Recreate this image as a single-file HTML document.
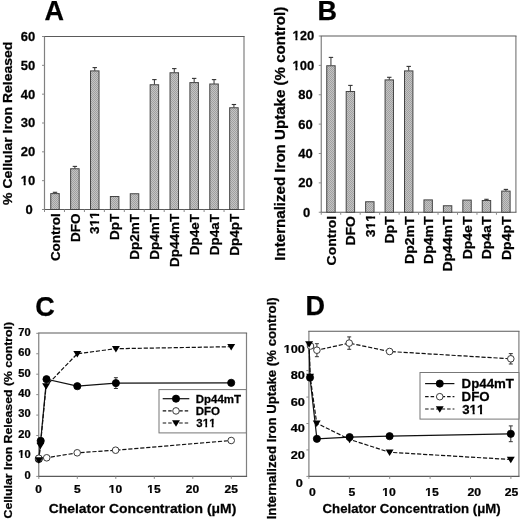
<!DOCTYPE html>
<html><head><meta charset="utf-8"><style>
html,body{margin:0;padding:0;background:#fff;}
body{width:520px;height:521px;overflow:hidden;}
svg{display:block;will-change:transform;filter:blur(0.25px);}
text{font-family:"Liberation Sans",sans-serif;font-weight:bold;fill:#000;font-kerning:none;stroke:#000;stroke-width:0.25px;}
</style></head><body>
<svg width="520" height="521" viewBox="0 0 520 521">
<rect width="520" height="521" fill="#fff"/>
<defs><pattern id="chk" patternUnits="userSpaceOnUse" x="0" y="0" width="2" height="2"><rect width="2" height="2" fill="#c4c4c4"/><rect width="1" height="1" fill="#a0a0a0"/><rect x="1" y="1" width="1" height="1" fill="#a0a0a0"/></pattern></defs>
<g transform="translate(44.39,20.20) scale(1.0,1)"><text x="0" y="0" font-size="27.00" text-anchor="start" font-family="Liberation Sans" font-weight="bold" >A</text>
</g>
<g transform="translate(317.51,19.60) scale(1.0,1)"><text x="0" y="0" font-size="27.00" text-anchor="start" font-family="Liberation Sans" font-weight="bold" >B</text>
</g>
<g transform="translate(35.22,315.60) scale(1.0,1)"><text x="0" y="0" font-size="27.00" text-anchor="start" font-family="Liberation Sans" font-weight="bold" >C</text>
</g>
<g transform="translate(305.61,315.00) scale(1.0,1)"><text x="0" y="0" font-size="27.00" text-anchor="start" font-family="Liberation Sans" font-weight="bold" >D</text>
</g>
<path d="M44.50,36.50 V209.50 M244.00,36.50 V209.50" stroke="#808080" stroke-width="1.2" fill="none"/>
<path d="M43.90,36.50 H244.60 M43.90,209.50 H244.60" stroke="#5a5a5a" stroke-width="1.1" fill="none"/>
<line x1="42.00" y1="209.50" x2="44.50" y2="209.50" stroke="#8a8a8a" stroke-width="1" />
<g transform="translate(25.54,213.88) scale(1.04,1)"><text x="0" y="0" font-size="12.50" text-anchor="start" font-family="Liberation Sans" font-weight="bold" >0</text>
</g>
<line x1="42.00" y1="180.67" x2="44.50" y2="180.67" stroke="#8a8a8a" stroke-width="1" />
<g transform="translate(20.76,185.04) scale(1.04,1)"><text x="0" y="0" font-size="12.50" text-anchor="start" font-family="Liberation Sans" font-weight="bold" >10</text>
<rect x="-0.21" y="-2.88" width="3.01" height="4.18" fill="#fff"/>
<rect x="4.75" y="-2.88" width="2.85" height="4.18" fill="#fff"/>
</g>
<line x1="42.00" y1="151.83" x2="44.50" y2="151.83" stroke="#8a8a8a" stroke-width="1" />
<g transform="translate(20.76,156.21) scale(1.04,1)"><text x="0" y="0" font-size="12.50" text-anchor="start" font-family="Liberation Sans" font-weight="bold" >20</text>
</g>
<line x1="42.00" y1="123.00" x2="44.50" y2="123.00" stroke="#8a8a8a" stroke-width="1" />
<g transform="translate(20.76,127.38) scale(1.04,1)"><text x="0" y="0" font-size="12.50" text-anchor="start" font-family="Liberation Sans" font-weight="bold" >30</text>
</g>
<line x1="42.00" y1="94.17" x2="44.50" y2="94.17" stroke="#8a8a8a" stroke-width="1" />
<g transform="translate(20.76,98.54) scale(1.04,1)"><text x="0" y="0" font-size="12.50" text-anchor="start" font-family="Liberation Sans" font-weight="bold" >40</text>
</g>
<line x1="42.00" y1="65.33" x2="44.50" y2="65.33" stroke="#8a8a8a" stroke-width="1" />
<g transform="translate(20.76,69.71) scale(1.04,1)"><text x="0" y="0" font-size="12.50" text-anchor="start" font-family="Liberation Sans" font-weight="bold" >50</text>
</g>
<line x1="42.00" y1="36.50" x2="44.50" y2="36.50" stroke="#8a8a8a" stroke-width="1" />
<g transform="translate(20.76,40.88) scale(1.04,1)"><text x="0" y="0" font-size="12.50" text-anchor="start" font-family="Liberation Sans" font-weight="bold" >60</text>
</g>
<line x1="44.50" y1="209.50" x2="44.50" y2="212.00" stroke="#8a8a8a" stroke-width="1" />
<line x1="64.45" y1="209.50" x2="64.45" y2="212.00" stroke="#8a8a8a" stroke-width="1" />
<line x1="84.40" y1="209.50" x2="84.40" y2="212.00" stroke="#8a8a8a" stroke-width="1" />
<line x1="104.35" y1="209.50" x2="104.35" y2="212.00" stroke="#8a8a8a" stroke-width="1" />
<line x1="124.30" y1="209.50" x2="124.30" y2="212.00" stroke="#8a8a8a" stroke-width="1" />
<line x1="144.25" y1="209.50" x2="144.25" y2="212.00" stroke="#8a8a8a" stroke-width="1" />
<line x1="164.20" y1="209.50" x2="164.20" y2="212.00" stroke="#8a8a8a" stroke-width="1" />
<line x1="184.15" y1="209.50" x2="184.15" y2="212.00" stroke="#8a8a8a" stroke-width="1" />
<line x1="204.10" y1="209.50" x2="204.10" y2="212.00" stroke="#8a8a8a" stroke-width="1" />
<line x1="224.05" y1="209.50" x2="224.05" y2="212.00" stroke="#8a8a8a" stroke-width="1" />
<line x1="55.00" y1="193.60" x2="55.00" y2="192.30" stroke="#333" stroke-width="1" />
<line x1="52.80" y1="192.30" x2="57.20" y2="192.30" stroke="#333" stroke-width="1.1" />
<rect x="50.75" y="193.60" width="8.50" height="15.90" fill="url(#chk)" stroke="#444" stroke-width="1"/>
<g transform="translate(59.67,261.12) rotate(-90) scale(1.04,1)"><text x="0" y="0" font-size="12.98" text-anchor="start" font-family="Liberation Sans" font-weight="bold" >Control</text>
</g>
<line x1="74.88" y1="168.75" x2="74.88" y2="166.40" stroke="#333" stroke-width="1" />
<line x1="72.68" y1="166.40" x2="77.08" y2="166.40" stroke="#333" stroke-width="1.1" />
<rect x="70.63" y="168.75" width="8.50" height="40.75" fill="url(#chk)" stroke="#444" stroke-width="1"/>
<g transform="translate(79.55,241.94) rotate(-90) scale(1.04,1)"><text x="0" y="0" font-size="12.98" text-anchor="start" font-family="Liberation Sans" font-weight="bold" >DFO</text>
</g>
<line x1="94.76" y1="70.90" x2="94.76" y2="67.60" stroke="#333" stroke-width="1" />
<line x1="92.56" y1="67.60" x2="96.96" y2="67.60" stroke="#333" stroke-width="1.1" />
<rect x="90.51" y="70.90" width="8.50" height="138.60" fill="url(#chk)" stroke="#444" stroke-width="1"/>
<g transform="translate(99.43,234.02) rotate(-90) scale(1.04,1)"><text x="0" y="0" font-size="12.98" text-anchor="start" font-family="Liberation Sans" font-weight="bold" >311</text>
<rect x="7.04" y="-2.92" width="3.09" height="4.22" fill="#fff"/>
<rect x="12.15" y="-2.92" width="2.93" height="4.22" fill="#fff"/>
<rect x="14.25" y="-2.92" width="3.09" height="4.22" fill="#fff"/>
<rect x="19.37" y="-2.92" width="2.93" height="4.22" fill="#fff"/>
</g>
<rect x="110.39" y="196.50" width="8.50" height="13.00" fill="url(#chk)" stroke="#444" stroke-width="1"/>
<g transform="translate(119.31,240.06) rotate(-90) scale(1.04,1)"><text x="0" y="0" font-size="12.98" text-anchor="start" font-family="Liberation Sans" font-weight="bold" >DpT</text>
</g>
<rect x="130.27" y="193.75" width="8.50" height="15.75" fill="url(#chk)" stroke="#444" stroke-width="1"/>
<g transform="translate(139.19,259.63) rotate(-90) scale(1.04,1)"><text x="0" y="0" font-size="12.98" text-anchor="start" font-family="Liberation Sans" font-weight="bold" >Dp2mT</text>
</g>
<line x1="154.40" y1="84.75" x2="154.40" y2="79.60" stroke="#333" stroke-width="1" />
<line x1="152.20" y1="79.60" x2="156.60" y2="79.60" stroke="#333" stroke-width="1.1" />
<rect x="150.15" y="84.75" width="8.50" height="124.75" fill="url(#chk)" stroke="#444" stroke-width="1"/>
<g transform="translate(159.07,259.63) rotate(-90) scale(1.04,1)"><text x="0" y="0" font-size="12.98" text-anchor="start" font-family="Liberation Sans" font-weight="bold" >Dp4mT</text>
</g>
<line x1="174.28" y1="72.75" x2="174.28" y2="68.60" stroke="#333" stroke-width="1" />
<line x1="172.08" y1="68.60" x2="176.48" y2="68.60" stroke="#333" stroke-width="1.1" />
<rect x="170.03" y="72.75" width="8.50" height="136.75" fill="url(#chk)" stroke="#444" stroke-width="1"/>
<g transform="translate(178.95,267.06) rotate(-90) scale(1.04,1)"><text x="0" y="0" font-size="12.98" text-anchor="start" font-family="Liberation Sans" font-weight="bold" >Dp44mT</text>
</g>
<line x1="194.16" y1="82.60" x2="194.16" y2="78.40" stroke="#333" stroke-width="1" />
<line x1="191.96" y1="78.40" x2="196.36" y2="78.40" stroke="#333" stroke-width="1.1" />
<rect x="189.91" y="82.60" width="8.50" height="126.90" fill="url(#chk)" stroke="#444" stroke-width="1"/>
<g transform="translate(198.83,255.18) rotate(-90) scale(1.04,1)"><text x="0" y="0" font-size="12.98" text-anchor="start" font-family="Liberation Sans" font-weight="bold" >Dp4eT</text>
</g>
<line x1="214.04" y1="84.00" x2="214.04" y2="79.60" stroke="#333" stroke-width="1" />
<line x1="211.84" y1="79.60" x2="216.24" y2="79.60" stroke="#333" stroke-width="1.1" />
<rect x="209.79" y="84.00" width="8.50" height="125.50" fill="url(#chk)" stroke="#444" stroke-width="1"/>
<g transform="translate(218.71,255.18) rotate(-90) scale(1.04,1)"><text x="0" y="0" font-size="12.98" text-anchor="start" font-family="Liberation Sans" font-weight="bold" >Dp4aT</text>
</g>
<line x1="233.92" y1="107.75" x2="233.92" y2="104.50" stroke="#333" stroke-width="1" />
<line x1="231.72" y1="104.50" x2="236.12" y2="104.50" stroke="#333" stroke-width="1.1" />
<rect x="229.67" y="107.75" width="8.50" height="101.75" fill="url(#chk)" stroke="#444" stroke-width="1"/>
<g transform="translate(238.59,255.85) rotate(-90) scale(1.04,1)"><text x="0" y="0" font-size="12.98" text-anchor="start" font-family="Liberation Sans" font-weight="bold" >Dp4pT</text>
</g>
<g transform="translate(12.10,204.88) rotate(-90) scale(1.04,1)"><text x="0" y="0" font-size="13.46" text-anchor="start" font-family="Liberation Sans" font-weight="bold" >% Cellular Iron Released</text>
</g>
<path d="M321.25,36.00 V212.25 M515.90,36.00 V212.25" stroke="#808080" stroke-width="1.2" fill="none"/>
<path d="M320.65,36.00 H516.50 M320.65,212.25 H516.50" stroke="#5a5a5a" stroke-width="1.1" fill="none"/>
<line x1="318.75" y1="212.25" x2="321.25" y2="212.25" stroke="#8a8a8a" stroke-width="1" />
<g transform="translate(303.04,216.62) scale(1.04,1)"><text x="0" y="0" font-size="12.50" text-anchor="start" font-family="Liberation Sans" font-weight="bold" >0</text>
</g>
<line x1="318.75" y1="182.88" x2="321.25" y2="182.88" stroke="#8a8a8a" stroke-width="1" />
<g transform="translate(298.36,187.25) scale(1.04,1)"><text x="0" y="0" font-size="12.50" text-anchor="start" font-family="Liberation Sans" font-weight="bold" >20</text>
</g>
<line x1="318.75" y1="153.50" x2="321.25" y2="153.50" stroke="#8a8a8a" stroke-width="1" />
<g transform="translate(298.36,157.88) scale(1.04,1)"><text x="0" y="0" font-size="12.50" text-anchor="start" font-family="Liberation Sans" font-weight="bold" >40</text>
</g>
<line x1="318.75" y1="124.12" x2="321.25" y2="124.12" stroke="#8a8a8a" stroke-width="1" />
<g transform="translate(298.36,128.50) scale(1.04,1)"><text x="0" y="0" font-size="12.50" text-anchor="start" font-family="Liberation Sans" font-weight="bold" >60</text>
</g>
<line x1="318.75" y1="94.75" x2="321.25" y2="94.75" stroke="#8a8a8a" stroke-width="1" />
<g transform="translate(298.36,99.12) scale(1.04,1)"><text x="0" y="0" font-size="12.50" text-anchor="start" font-family="Liberation Sans" font-weight="bold" >80</text>
</g>
<line x1="318.75" y1="65.38" x2="321.25" y2="65.38" stroke="#8a8a8a" stroke-width="1" />
<g transform="translate(292.51,69.75) scale(1.04,1)"><text x="0" y="0" font-size="12.50" text-anchor="start" font-family="Liberation Sans" font-weight="bold" >100</text>
<rect x="-0.21" y="-2.88" width="3.01" height="4.18" fill="#fff"/>
<rect x="4.75" y="-2.88" width="2.85" height="4.18" fill="#fff"/>
</g>
<line x1="318.75" y1="36.00" x2="321.25" y2="36.00" stroke="#8a8a8a" stroke-width="1" />
<g transform="translate(292.51,40.38) scale(1.04,1)"><text x="0" y="0" font-size="12.50" text-anchor="start" font-family="Liberation Sans" font-weight="bold" >120</text>
<rect x="-0.21" y="-2.88" width="3.01" height="4.18" fill="#fff"/>
<rect x="4.75" y="-2.88" width="2.85" height="4.18" fill="#fff"/>
</g>
<line x1="321.25" y1="212.25" x2="321.25" y2="214.75" stroke="#8a8a8a" stroke-width="1" />
<line x1="340.71" y1="212.25" x2="340.71" y2="214.75" stroke="#8a8a8a" stroke-width="1" />
<line x1="360.18" y1="212.25" x2="360.18" y2="214.75" stroke="#8a8a8a" stroke-width="1" />
<line x1="379.64" y1="212.25" x2="379.64" y2="214.75" stroke="#8a8a8a" stroke-width="1" />
<line x1="399.11" y1="212.25" x2="399.11" y2="214.75" stroke="#8a8a8a" stroke-width="1" />
<line x1="418.57" y1="212.25" x2="418.57" y2="214.75" stroke="#8a8a8a" stroke-width="1" />
<line x1="438.04" y1="212.25" x2="438.04" y2="214.75" stroke="#8a8a8a" stroke-width="1" />
<line x1="457.50" y1="212.25" x2="457.50" y2="214.75" stroke="#8a8a8a" stroke-width="1" />
<line x1="476.97" y1="212.25" x2="476.97" y2="214.75" stroke="#8a8a8a" stroke-width="1" />
<line x1="496.43" y1="212.25" x2="496.43" y2="214.75" stroke="#8a8a8a" stroke-width="1" />
<line x1="330.95" y1="65.75" x2="330.95" y2="57.40" stroke="#333" stroke-width="1" />
<line x1="328.75" y1="57.40" x2="333.15" y2="57.40" stroke="#333" stroke-width="1.1" />
<rect x="326.75" y="65.75" width="8.40" height="146.50" fill="url(#chk)" stroke="#444" stroke-width="1"/>
<g transform="translate(335.80,265.46) rotate(-90) scale(1.04,1)"><text x="0" y="0" font-size="13.46" text-anchor="start" font-family="Liberation Sans" font-weight="bold" >Control</text>
</g>
<line x1="350.39" y1="91.50" x2="350.39" y2="85.40" stroke="#333" stroke-width="1" />
<line x1="348.19" y1="85.40" x2="352.59" y2="85.40" stroke="#333" stroke-width="1.1" />
<rect x="346.19" y="91.50" width="8.40" height="120.75" fill="url(#chk)" stroke="#444" stroke-width="1"/>
<g transform="translate(355.24,245.58) rotate(-90) scale(1.04,1)"><text x="0" y="0" font-size="13.46" text-anchor="start" font-family="Liberation Sans" font-weight="bold" >DFO</text>
</g>
<rect x="365.63" y="201.75" width="8.40" height="10.50" fill="url(#chk)" stroke="#444" stroke-width="1"/>
<g transform="translate(374.68,237.36) rotate(-90) scale(1.04,1)"><text x="0" y="0" font-size="13.46" text-anchor="start" font-family="Liberation Sans" font-weight="bold" >311</text>
<rect x="7.33" y="-2.97" width="3.17" height="4.27" fill="#fff"/>
<rect x="12.59" y="-2.97" width="3.00" height="4.27" fill="#fff"/>
<rect x="14.82" y="-2.97" width="3.17" height="4.27" fill="#fff"/>
<rect x="20.08" y="-2.97" width="3.00" height="4.27" fill="#fff"/>
</g>
<line x1="389.27" y1="79.90" x2="389.27" y2="77.30" stroke="#333" stroke-width="1" />
<line x1="387.07" y1="77.30" x2="391.47" y2="77.30" stroke="#333" stroke-width="1.1" />
<rect x="385.07" y="79.90" width="8.40" height="132.35" fill="url(#chk)" stroke="#444" stroke-width="1"/>
<g transform="translate(394.12,243.62) rotate(-90) scale(1.04,1)"><text x="0" y="0" font-size="13.46" text-anchor="start" font-family="Liberation Sans" font-weight="bold" >DpT</text>
</g>
<line x1="408.71" y1="70.90" x2="408.71" y2="66.40" stroke="#333" stroke-width="1" />
<line x1="406.51" y1="66.40" x2="410.91" y2="66.40" stroke="#333" stroke-width="1.1" />
<rect x="404.51" y="70.90" width="8.40" height="141.35" fill="url(#chk)" stroke="#444" stroke-width="1"/>
<g transform="translate(413.56,263.92) rotate(-90) scale(1.04,1)"><text x="0" y="0" font-size="13.46" text-anchor="start" font-family="Liberation Sans" font-weight="bold" >Dp2mT</text>
</g>
<rect x="423.95" y="199.90" width="8.40" height="12.35" fill="url(#chk)" stroke="#444" stroke-width="1"/>
<g transform="translate(433.00,263.92) rotate(-90) scale(1.04,1)"><text x="0" y="0" font-size="13.46" text-anchor="start" font-family="Liberation Sans" font-weight="bold" >Dp4mT</text>
</g>
<rect x="443.39" y="205.75" width="8.40" height="6.50" fill="url(#chk)" stroke="#444" stroke-width="1"/>
<g transform="translate(452.44,271.62) rotate(-90) scale(1.04,1)"><text x="0" y="0" font-size="13.46" text-anchor="start" font-family="Liberation Sans" font-weight="bold" >Dp44mT</text>
</g>
<rect x="462.83" y="200.10" width="8.40" height="12.15" fill="url(#chk)" stroke="#444" stroke-width="1"/>
<g transform="translate(471.88,259.30) rotate(-90) scale(1.04,1)"><text x="0" y="0" font-size="13.46" text-anchor="start" font-family="Liberation Sans" font-weight="bold" >Dp4eT</text>
</g>
<line x1="486.47" y1="200.50" x2="486.47" y2="199.30" stroke="#333" stroke-width="1" />
<line x1="484.27" y1="199.30" x2="488.67" y2="199.30" stroke="#333" stroke-width="1.1" />
<rect x="482.27" y="200.50" width="8.40" height="11.75" fill="url(#chk)" stroke="#444" stroke-width="1"/>
<g transform="translate(491.32,259.30) rotate(-90) scale(1.04,1)"><text x="0" y="0" font-size="13.46" text-anchor="start" font-family="Liberation Sans" font-weight="bold" >Dp4aT</text>
</g>
<line x1="505.91" y1="191.10" x2="505.91" y2="189.40" stroke="#333" stroke-width="1" />
<line x1="503.71" y1="189.40" x2="508.11" y2="189.40" stroke="#333" stroke-width="1.1" />
<rect x="501.71" y="191.10" width="8.40" height="21.15" fill="url(#chk)" stroke="#444" stroke-width="1"/>
<g transform="translate(510.76,260.00) rotate(-90) scale(1.04,1)"><text x="0" y="0" font-size="13.46" text-anchor="start" font-family="Liberation Sans" font-weight="bold" >Dp4pT</text>
</g>
<g transform="translate(285.40,260.66) rotate(-90) scale(1.04,1)"><text x="0" y="0" font-size="14.52" text-anchor="start" font-family="Liberation Sans" font-weight="bold" >Internalized Iron Uptake (% control)</text>
</g>
<path d="M38.75,333.00 V476.40 M246.50,333.00 V476.40" stroke="#808080" stroke-width="1.2" fill="none"/>
<path d="M38.15,333.00 H247.10 M38.15,476.40 H247.10" stroke="#5a5a5a" stroke-width="1.1" fill="none"/>
<line x1="36.25" y1="476.40" x2="38.75" y2="476.40" stroke="#8a8a8a" stroke-width="1" />
<g transform="translate(24.43,478.73) scale(1.1,1)"><text x="0" y="0" font-size="10.09" text-anchor="start" font-family="Liberation Sans" font-weight="bold" >0</text>
</g>
<line x1="36.25" y1="455.96" x2="38.75" y2="455.96" stroke="#8a8a8a" stroke-width="1" />
<g transform="translate(18.21,458.29) scale(1.1,1)"><text x="0" y="0" font-size="10.09" text-anchor="start" font-family="Liberation Sans" font-weight="bold" >10</text>
<rect x="-0.36" y="-2.63" width="2.60" height="3.93" fill="#fff"/>
<rect x="3.86" y="-2.63" width="2.47" height="3.93" fill="#fff"/>
</g>
<line x1="36.25" y1="435.52" x2="38.75" y2="435.52" stroke="#8a8a8a" stroke-width="1" />
<g transform="translate(18.21,437.85) scale(1.1,1)"><text x="0" y="0" font-size="10.09" text-anchor="start" font-family="Liberation Sans" font-weight="bold" >20</text>
</g>
<line x1="36.25" y1="415.08" x2="38.75" y2="415.08" stroke="#8a8a8a" stroke-width="1" />
<g transform="translate(18.21,417.41) scale(1.1,1)"><text x="0" y="0" font-size="10.09" text-anchor="start" font-family="Liberation Sans" font-weight="bold" >30</text>
</g>
<line x1="36.25" y1="394.64" x2="38.75" y2="394.64" stroke="#8a8a8a" stroke-width="1" />
<g transform="translate(18.21,396.97) scale(1.1,1)"><text x="0" y="0" font-size="10.09" text-anchor="start" font-family="Liberation Sans" font-weight="bold" >40</text>
</g>
<line x1="36.25" y1="374.20" x2="38.75" y2="374.20" stroke="#8a8a8a" stroke-width="1" />
<g transform="translate(18.21,376.53) scale(1.1,1)"><text x="0" y="0" font-size="10.09" text-anchor="start" font-family="Liberation Sans" font-weight="bold" >50</text>
</g>
<line x1="36.25" y1="353.76" x2="38.75" y2="353.76" stroke="#8a8a8a" stroke-width="1" />
<g transform="translate(18.21,356.09) scale(1.1,1)"><text x="0" y="0" font-size="10.09" text-anchor="start" font-family="Liberation Sans" font-weight="bold" >60</text>
</g>
<line x1="36.25" y1="333.32" x2="38.75" y2="333.32" stroke="#8a8a8a" stroke-width="1" />
<g transform="translate(18.21,335.65) scale(1.1,1)"><text x="0" y="0" font-size="10.09" text-anchor="start" font-family="Liberation Sans" font-weight="bold" >70</text>
</g>
<line x1="38.80" y1="476.40" x2="38.80" y2="478.90" stroke="#8a8a8a" stroke-width="1" />
<g transform="translate(35.34,493.20) scale(1.1,1)"><text x="0" y="0" font-size="10.91" text-anchor="start" font-family="Liberation Sans" font-weight="bold" >0</text>
</g>
<line x1="77.30" y1="476.40" x2="77.30" y2="478.90" stroke="#8a8a8a" stroke-width="1" />
<g transform="translate(73.94,493.20) scale(1.1,1)"><text x="0" y="0" font-size="10.91" text-anchor="start" font-family="Liberation Sans" font-weight="bold" >5</text>
</g>
<line x1="115.80" y1="476.40" x2="115.80" y2="478.90" stroke="#8a8a8a" stroke-width="1" />
<g transform="translate(108.86,493.20) scale(1.1,1)"><text x="0" y="0" font-size="10.91" text-anchor="start" font-family="Liberation Sans" font-weight="bold" >10</text>
<rect x="-0.31" y="-2.71" width="2.74" height="4.01" fill="#fff"/>
<rect x="4.16" y="-2.71" width="2.60" height="4.01" fill="#fff"/>
</g>
<line x1="154.30" y1="476.40" x2="154.30" y2="478.90" stroke="#8a8a8a" stroke-width="1" />
<g transform="translate(147.30,493.20) scale(1.1,1)"><text x="0" y="0" font-size="10.91" text-anchor="start" font-family="Liberation Sans" font-weight="bold" >15</text>
<rect x="-0.31" y="-2.71" width="2.74" height="4.01" fill="#fff"/>
<rect x="4.16" y="-2.71" width="2.60" height="4.01" fill="#fff"/>
</g>
<line x1="192.80" y1="476.40" x2="192.80" y2="478.90" stroke="#8a8a8a" stroke-width="1" />
<g transform="translate(185.74,493.20) scale(1.1,1)"><text x="0" y="0" font-size="10.91" text-anchor="start" font-family="Liberation Sans" font-weight="bold" >20</text>
</g>
<line x1="231.30" y1="476.40" x2="231.30" y2="478.90" stroke="#8a8a8a" stroke-width="1" />
<g transform="translate(224.48,493.20) scale(1.1,1)"><text x="0" y="0" font-size="10.91" text-anchor="start" font-family="Liberation Sans" font-weight="bold" >25</text>
</g>
<g transform="translate(48.74,513.00) scale(1.04,1)"><text x="0" y="0" font-size="13.37" text-anchor="start" font-family="Liberation Sans" font-weight="bold" >Chelator Concentration (μM)</text>
</g>
<g transform="translate(11.70,518.49) rotate(-90) scale(1.04,1)"><text x="0" y="0" font-size="11.83" text-anchor="start" font-family="Liberation Sans" font-weight="bold" >Cellular Iron Released (% control)</text>
</g>
<polyline points="38.80,459.00 40.70,440.80 46.50,379.20 77.30,386.20 115.90,383.10 231.20,382.80" fill="none" stroke="#111" stroke-width="1.2" />
<polyline points="38.80,458.20 46.70,457.80 77.20,452.80 115.60,450.20 231.20,440.50" fill="none" stroke="#111" stroke-width="1.2" stroke-dasharray="4.2 1.8"/>
<polyline points="38.80,460.00 40.40,445.50 46.10,386.00 77.30,353.70 115.90,348.70 231.20,346.70" fill="none" stroke="#111" stroke-width="1.2" stroke-dasharray="4.2 1.8"/>
<line x1="115.90" y1="377.70" x2="115.90" y2="388.50" stroke="#333" stroke-width="1" />
<line x1="113.90" y1="377.70" x2="117.90" y2="377.70" stroke="#333" stroke-width="1" />
<line x1="113.90" y1="388.50" x2="117.90" y2="388.50" stroke="#333" stroke-width="1" />
<circle cx="38.80" cy="459.00" r="3.6" fill="#000" stroke="#000" stroke-width="0.8"/>
<circle cx="40.70" cy="440.80" r="3.6" fill="#000" stroke="#000" stroke-width="0.8"/>
<circle cx="46.50" cy="379.20" r="3.6" fill="#000" stroke="#000" stroke-width="0.8"/>
<circle cx="77.30" cy="386.20" r="3.6" fill="#000" stroke="#000" stroke-width="0.8"/>
<circle cx="115.90" cy="383.10" r="3.6" fill="#000" stroke="#000" stroke-width="0.8"/>
<circle cx="231.20" cy="382.80" r="3.6" fill="#000" stroke="#000" stroke-width="0.8"/>
<circle cx="38.80" cy="458.20" r="3.3000000000000003" fill="#fff" stroke="#3a3a3a" stroke-width="1"/>
<circle cx="46.70" cy="457.80" r="3.3000000000000003" fill="#fff" stroke="#3a3a3a" stroke-width="1"/>
<circle cx="77.20" cy="452.80" r="3.3000000000000003" fill="#fff" stroke="#3a3a3a" stroke-width="1"/>
<circle cx="115.60" cy="450.20" r="3.3000000000000003" fill="#fff" stroke="#3a3a3a" stroke-width="1"/>
<circle cx="231.20" cy="440.50" r="3.3000000000000003" fill="#fff" stroke="#3a3a3a" stroke-width="1"/>
<path d="M34.84,457.30 L42.76,457.30 L38.80,463.78 Z" fill="#000"/>
<path d="M36.44,442.80 L44.36,442.80 L40.40,449.28 Z" fill="#000"/>
<path d="M42.14,383.30 L50.06,383.30 L46.10,389.78 Z" fill="#000"/>
<path d="M73.34,351.00 L81.26,351.00 L77.30,357.48 Z" fill="#000"/>
<path d="M111.94,346.00 L119.86,346.00 L115.90,352.48 Z" fill="#000"/>
<path d="M227.24,344.00 L235.16,344.00 L231.20,350.48 Z" fill="#000"/>
<rect x="159.00" y="389.60" width="87.30" height="43.30" fill="#fff" stroke="#777" stroke-width="1"/>
<line x1="162.7" y1="398.70" x2="189.3" y2="398.70" stroke="#111" stroke-width="1.2" />
<circle cx="176.00" cy="398.70" r="3.6" fill="#000" stroke="#000" stroke-width="0.8"/>
<g transform="translate(195.79,402.68) scale(1.04,1)"><text x="0" y="0" font-size="11.06" text-anchor="start" font-family="Liberation Sans" font-weight="bold" >Dp44mT</text>
</g>
<line x1="162.7" y1="410.90" x2="189.3" y2="410.90" stroke="#111" stroke-width="1.2" stroke-dasharray="3.5 2"/>
<circle cx="176.00" cy="410.90" r="3.3000000000000003" fill="#fff" stroke="#3a3a3a" stroke-width="1"/>
<g transform="translate(195.79,414.88) scale(1.04,1)"><text x="0" y="0" font-size="11.06" text-anchor="start" font-family="Liberation Sans" font-weight="bold" >DFO</text>
</g>
<line x1="162.7" y1="423.00" x2="189.3" y2="423.00" stroke="#111" stroke-width="1.2" stroke-dasharray="3.5 2"/>
<path d="M172.04,420.30 L179.96,420.30 L176.00,426.78 Z" fill="#000"/>
<g transform="translate(196.37,426.98) scale(1.04,1)"><text x="0" y="0" font-size="11.06" text-anchor="start" font-family="Liberation Sans" font-weight="bold" >311</text>
<rect x="5.85" y="-2.73" width="2.76" height="4.03" fill="#fff"/>
<rect x="10.37" y="-2.73" width="2.62" height="4.03" fill="#fff"/>
<rect x="11.99" y="-2.73" width="2.76" height="4.03" fill="#fff"/>
<rect x="16.52" y="-2.73" width="2.62" height="4.03" fill="#fff"/>
</g>
<path d="M308.90,331.25 V476.40 M518.90,331.25 V476.40" stroke="#808080" stroke-width="1.2" fill="none"/>
<path d="M308.30,331.25 H519.50 M308.30,476.40 H519.50" stroke="#5a5a5a" stroke-width="1.1" fill="none"/>
<line x1="306.40" y1="476.40" x2="308.90" y2="476.40" stroke="#8a8a8a" stroke-width="1" />
<g transform="translate(295.80,487.24) scale(1.1,1)"><text x="0" y="0" font-size="11.55" text-anchor="start" font-family="Liberation Sans" font-weight="bold" >0</text>
</g>
<line x1="306.40" y1="449.96" x2="308.90" y2="449.96" stroke="#8a8a8a" stroke-width="1" />
<g transform="translate(290.68,458.80) scale(1.1,1)"><text x="0" y="0" font-size="11.55" text-anchor="start" font-family="Liberation Sans" font-weight="bold" >20</text>
</g>
<line x1="306.40" y1="423.52" x2="308.90" y2="423.52" stroke="#8a8a8a" stroke-width="1" />
<g transform="translate(290.68,432.36) scale(1.1,1)"><text x="0" y="0" font-size="11.55" text-anchor="start" font-family="Liberation Sans" font-weight="bold" >40</text>
</g>
<line x1="306.40" y1="397.08" x2="308.90" y2="397.08" stroke="#8a8a8a" stroke-width="1" />
<g transform="translate(290.68,405.92) scale(1.1,1)"><text x="0" y="0" font-size="11.55" text-anchor="start" font-family="Liberation Sans" font-weight="bold" >60</text>
</g>
<line x1="306.40" y1="370.64" x2="308.90" y2="370.64" stroke="#8a8a8a" stroke-width="1" />
<g transform="translate(290.68,379.48) scale(1.1,1)"><text x="0" y="0" font-size="11.55" text-anchor="start" font-family="Liberation Sans" font-weight="bold" >80</text>
</g>
<line x1="306.40" y1="344.20" x2="308.90" y2="344.20" stroke="#8a8a8a" stroke-width="1" />
<g transform="translate(283.70,353.04) scale(1.1,1)"><text x="0" y="0" font-size="11.55" text-anchor="start" font-family="Liberation Sans" font-weight="bold" >100</text>
<rect x="-0.27" y="-2.78" width="2.85" height="4.08" fill="#fff"/>
<rect x="4.40" y="-2.78" width="2.70" height="4.08" fill="#fff"/>
</g>
<line x1="308.90" y1="476.40" x2="308.90" y2="478.90" stroke="#8a8a8a" stroke-width="1" />
<g transform="translate(308.88,496.40) scale(1.1,1)"><text x="0" y="0" font-size="11.09" text-anchor="start" font-family="Liberation Sans" font-weight="bold" >0</text>
</g>
<line x1="349.30" y1="476.40" x2="349.30" y2="478.90" stroke="#8a8a8a" stroke-width="1" />
<g transform="translate(348.48,496.40) scale(1.1,1)"><text x="0" y="0" font-size="11.09" text-anchor="start" font-family="Liberation Sans" font-weight="bold" >5</text>
</g>
<line x1="389.70" y1="476.40" x2="389.70" y2="478.90" stroke="#8a8a8a" stroke-width="1" />
<g transform="translate(382.25,496.40) scale(1.1,1)"><text x="0" y="0" font-size="11.09" text-anchor="start" font-family="Liberation Sans" font-weight="bold" >10</text>
<rect x="-0.30" y="-2.73" width="2.77" height="4.03" fill="#fff"/>
<rect x="4.23" y="-2.73" width="2.63" height="4.03" fill="#fff"/>
</g>
<line x1="430.10" y1="476.40" x2="430.10" y2="478.90" stroke="#8a8a8a" stroke-width="1" />
<g transform="translate(425.19,496.40) scale(1.1,1)"><text x="0" y="0" font-size="11.09" text-anchor="start" font-family="Liberation Sans" font-weight="bold" >15</text>
<rect x="-0.30" y="-2.73" width="2.77" height="4.03" fill="#fff"/>
<rect x="4.23" y="-2.73" width="2.63" height="4.03" fill="#fff"/>
</g>
<line x1="470.50" y1="476.40" x2="470.50" y2="478.90" stroke="#8a8a8a" stroke-width="1" />
<g transform="translate(467.43,496.40) scale(1.1,1)"><text x="0" y="0" font-size="11.09" text-anchor="start" font-family="Liberation Sans" font-weight="bold" >20</text>
</g>
<line x1="510.90" y1="476.40" x2="510.90" y2="478.90" stroke="#8a8a8a" stroke-width="1" />
<g transform="translate(504.77,496.40) scale(1.1,1)"><text x="0" y="0" font-size="11.09" text-anchor="start" font-family="Liberation Sans" font-weight="bold" >25</text>
</g>
<g transform="translate(322.57,513.20) scale(1.04,1)"><text x="0" y="0" font-size="12.69" text-anchor="start" font-family="Liberation Sans" font-weight="bold" >Chelator Concentration (μM)</text>
</g>
<g transform="translate(275.70,519.32) rotate(-90) scale(1.04,1)"><text x="0" y="0" font-size="12.69" text-anchor="start" font-family="Liberation Sans" font-weight="bold" >Internalized Iron Uptake (% control)</text>
</g>
<polyline points="309.10,344.50 310.00,377.60 316.90,438.80 349.60,437.10 389.60,436.20 510.80,433.80" fill="none" stroke="#111" stroke-width="1.2" />
<polyline points="310.50,346.00 316.90,350.20 349.20,343.10 389.60,351.50 510.80,358.80" fill="none" stroke="#111" stroke-width="1.2" stroke-dasharray="4.2 1.8"/>
<polyline points="309.10,343.90 310.10,376.40 316.70,423.20 349.60,439.40 389.60,452.30 510.80,459.50" fill="none" stroke="#111" stroke-width="1.2" stroke-dasharray="4.2 1.8"/>
<line x1="510.80" y1="425.90" x2="510.80" y2="441.70" stroke="#333" stroke-width="1" />
<line x1="508.80" y1="425.90" x2="512.80" y2="425.90" stroke="#333" stroke-width="1" />
<line x1="508.80" y1="441.70" x2="512.80" y2="441.70" stroke="#333" stroke-width="1" />
<line x1="316.90" y1="343.70" x2="316.90" y2="356.70" stroke="#333" stroke-width="1" />
<line x1="314.90" y1="343.70" x2="318.90" y2="343.70" stroke="#333" stroke-width="1" />
<line x1="314.90" y1="356.70" x2="318.90" y2="356.70" stroke="#333" stroke-width="1" />
<line x1="349.20" y1="336.90" x2="349.20" y2="349.30" stroke="#333" stroke-width="1" />
<line x1="347.20" y1="336.90" x2="351.20" y2="336.90" stroke="#333" stroke-width="1" />
<line x1="347.20" y1="349.30" x2="351.20" y2="349.30" stroke="#333" stroke-width="1" />
<line x1="510.80" y1="353.60" x2="510.80" y2="364.00" stroke="#333" stroke-width="1" />
<line x1="508.80" y1="353.60" x2="512.80" y2="353.60" stroke="#333" stroke-width="1" />
<line x1="508.80" y1="364.00" x2="512.80" y2="364.00" stroke="#333" stroke-width="1" />
<circle cx="310.00" cy="377.60" r="3.6" fill="#000" stroke="#000" stroke-width="0.8"/>
<circle cx="316.90" cy="438.80" r="3.6" fill="#000" stroke="#000" stroke-width="0.8"/>
<circle cx="349.60" cy="437.10" r="3.6" fill="#000" stroke="#000" stroke-width="0.8"/>
<circle cx="389.60" cy="436.20" r="3.6" fill="#000" stroke="#000" stroke-width="0.8"/>
<circle cx="510.80" cy="433.80" r="3.6" fill="#000" stroke="#000" stroke-width="0.8"/>
<circle cx="310.50" cy="346.00" r="3.3000000000000003" fill="#fff" stroke="#3a3a3a" stroke-width="1"/>
<circle cx="316.90" cy="350.20" r="3.3000000000000003" fill="#fff" stroke="#3a3a3a" stroke-width="1"/>
<circle cx="349.20" cy="343.10" r="3.3000000000000003" fill="#fff" stroke="#3a3a3a" stroke-width="1"/>
<circle cx="389.60" cy="351.50" r="3.3000000000000003" fill="#fff" stroke="#3a3a3a" stroke-width="1"/>
<circle cx="510.80" cy="358.80" r="3.3000000000000003" fill="#fff" stroke="#3a3a3a" stroke-width="1"/>
<path d="M305.14,341.20 L313.06,341.20 L309.10,347.68 Z" fill="#000"/>
<path d="M306.14,373.70 L314.06,373.70 L310.10,380.18 Z" fill="#000"/>
<path d="M312.74,420.50 L320.66,420.50 L316.70,426.98 Z" fill="#000"/>
<path d="M345.64,436.70 L353.56,436.70 L349.60,443.18 Z" fill="#000"/>
<path d="M385.64,449.60 L393.56,449.60 L389.60,456.08 Z" fill="#000"/>
<path d="M506.84,456.80 L514.76,456.80 L510.80,463.28 Z" fill="#000"/>
<rect x="420.00" y="372.50" width="98.90" height="46.60" fill="#fff" stroke="#777" stroke-width="1"/>
<line x1="425.1" y1="383.60" x2="454.4" y2="383.60" stroke="#111" stroke-width="1.2" />
<circle cx="439.75" cy="383.60" r="3.6" fill="#000" stroke="#000" stroke-width="0.8"/>
<g transform="translate(461.57,388.20) scale(1.04,1)"><text x="0" y="0" font-size="12.79" text-anchor="start" font-family="Liberation Sans" font-weight="bold" >Dp44mT</text>
</g>
<line x1="425.1" y1="396.70" x2="454.4" y2="396.70" stroke="#111" stroke-width="1.2" stroke-dasharray="3.5 2"/>
<circle cx="439.75" cy="396.70" r="3.3000000000000003" fill="#fff" stroke="#3a3a3a" stroke-width="1"/>
<g transform="translate(461.57,401.30) scale(1.04,1)"><text x="0" y="0" font-size="12.79" text-anchor="start" font-family="Liberation Sans" font-weight="bold" >DFO</text>
</g>
<line x1="425.1" y1="409.00" x2="454.4" y2="409.00" stroke="#111" stroke-width="1.2" stroke-dasharray="3.5 2"/>
<path d="M435.79,406.30 L443.71,406.30 L439.75,412.78 Z" fill="#000"/>
<g transform="translate(462.23,413.60) scale(1.04,1)"><text x="0" y="0" font-size="12.79" text-anchor="start" font-family="Liberation Sans" font-weight="bold" >311</text>
<rect x="6.92" y="-2.91" width="3.06" height="4.21" fill="#fff"/>
<rect x="11.97" y="-2.91" width="2.90" height="4.21" fill="#fff"/>
<rect x="14.03" y="-2.91" width="3.06" height="4.21" fill="#fff"/>
<rect x="19.08" y="-2.91" width="2.90" height="4.21" fill="#fff"/>
</g>
</svg>
</body></html>
